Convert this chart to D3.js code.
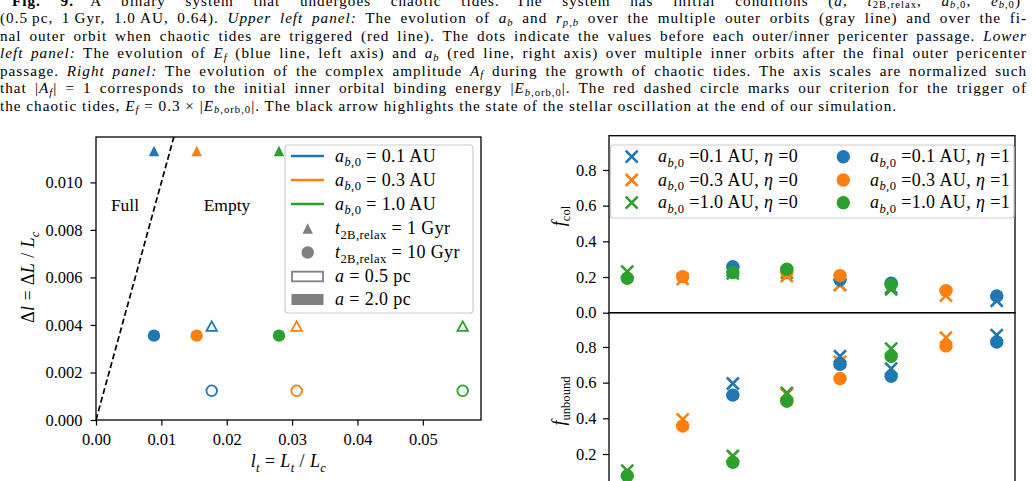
<!DOCTYPE html>
<html><head><meta charset="utf-8">
<script src="https://cdn.jsdelivr.net/npm/d3@7"></script>
<style>
html,body{margin:0;padding:0;background:#fff;}
svg{display:block;}
text{font-family:"Liberation Serif","Times New Roman",serif;fill:#000;}
</style></head><body>
<svg id="c" width="1036" height="481"></svg>
<script>
// ---------------- DATA ----------------
const colors = ["#1f77b4", "#ff7f0e", "#2ca02c"];
const abValues = ["0.1", "0.3", "1.0"];

// Left panel (l_t, Δl)
const ltFilled = [0.00887, 0.0154, 0.0280];   // a = 2.0 pc
const ltOpen   = [0.0177, 0.0307, 0.0561];    // a = 0.5 pc
const dlFilledTri  = [0.01132, 0.01132, 0.01132]; // 1 Gyr, 2.0 pc
const dlFilledCirc = [0.00355, 0.00355, 0.00355]; // 10 Gyr, 2.0 pc
const dlOpenTri    = [0.00395, 0.00395, 0.00395]; // 1 Gyr, 0.5 pc
const dlOpenCirc   = [0.00123, 0.00123, 0.00123]; // 10 Gyr, 0.5 pc
const dashLineX = [0, 0.013];
const dashLineY = [0, 0.013];
const leftXTicks = [0, 0.01, 0.02, 0.03, 0.04, 0.05];
const leftYTicks = [0, 0.002, 0.004, 0.006, 0.008, 0.010];

// Right panel
const rightX = [0.045, 0.1815, 0.305, 0.438, 0.569, 0.695, 0.830, 0.955];
const idxSeries = [[2, 4, 5, 7], [1, 3, 4, 6], [0, 2, 3, 5]];
const fcolEta0 = [[0.235, 0.156, 0.140, 0.067], [0.188, 0.205, 0.156, 0.096], [0.230, 0.220, 0.225, 0.131]];
const fcolEta1 = [[0.258, 0.184, 0.165, 0.094], [0.202, 0.225, 0.208, 0.124], [0.193, 0.225, 0.244, 0.156]];
const funbEta0 = [[0.595, 0.748, 0.679, 0.866], [0.394, 0.535, 0.716, 0.852], [0.107, 0.189, 0.543, 0.791]];
const funbEta1 = [[0.530, 0.703, 0.636, 0.828], [0.357, 0.495, 0.623, 0.806], [0.078, 0.154, 0.498, 0.748]];
const rightYTicks = [0, 0.2, 0.4, 0.6, 0.8];

// Caption lines
const captionLines = [
  "#Fig. 9.#\u2003A binary system that undergoes chaotic tides.\u2003The system has initial conditions (*a*, *t*_{2B,relax}, *a*_{*b*,0}, *e*_{*b*,0})",
  "(0.5\u2009pc, 1\u2009Gyr, 1.0\u2009AU, 0.64). *Upper left panel:* The evolution of *a*_{*b*} and *r*_{*p,b*} over the multiple outer orbits (gray line) and over the fi-",
  "nal outer orbit when chaotic tides are triggered (red line). The dots indicate the values before each outer/inner pericenter passage. *Lower*",
  "*left panel:* The evolution of *E*_{*f*} (blue line, left axis) and *a*_{*b*} (red line, right axis) over multiple inner orbits after the final outer pericenter",
  "passage. *Right panel:* The evolution of the complex amplitude *A*_{*f*} during the growth of chaotic tides. The axis scales are normalized such",
  "that |*A*_{*f*}| = 1 corresponds to the initial inner orbital binding energy |*E*_{*b*,orb,0}|. The red dashed circle marks our criterion for the trigger of",
  "the chaotic tides, *E*_{*f*} = 0.3 × |*E*_{*b*,orb,0}|. The black arrow highlights the state of the stellar oscillation at the end of our simulation."
];

// ---------------- HELPERS ----------------
const svg = d3.select("#c");
function parseRich(s) {
  const runs = []; let it = false, sub = false, bold = false, buf = "";
  const push = () => { if (buf) { runs.push({t: buf, it, sub, bold}); buf = ""; } };
  for (let i = 0; i < s.length; i++) {
    const c = s[i];
    if (c === "*") { push(); it = !it; }
    else if (c === "#") { push(); bold = !bold; }
    else if (c === "_" && s[i + 1] === "{") { push(); sub = true; i++; }
    else if (c === "}" && sub) { push(); sub = false; }
    else buf += c;
  }
  push(); return runs;
}
function rich(text, s, fs, shiftFactor) {
  text.selectAll("tspan").remove();
  const runs = parseRich(s); let cur = false;
  const shift = fs * (shiftFactor === undefined ? 0.25 : shiftFactor);
  runs.forEach(r => {
    const ts = text.append("tspan").text(r.t);
    if (r.it) ts.attr("font-style", "italic");
    if (r.bold) ts.attr("font-weight", "bold");
    if (r.sub && !cur) ts.attr("dy", shift);
    if (!r.sub && cur) ts.attr("dy", -shift);
    if (r.sub) ts.attr("font-size", fs * 0.7);
    cur = r.sub;
  });
  return text;
}
function plainLen(s) { return parseRich(s).reduce((a, r) => a + r.t.length, 0); }
function triPath(cx, cy, w, h) {
  return `M${cx},${cy - h / 2}L${cx + w / 2},${cy + h / 2}L${cx - w / 2},${cy + h / 2}Z`;
}

// ---------------- CAPTION ----------------
const capFs = 15.2;
const capSub = 0.17;
const capBase = [5.5, 23, 40.5, 58, 75.5, 93, 110.5];
const capX0 = [12, 0, 0, 0, 0, 0, 0];
const capX1 = [1021, 1027, 1027, 1027, 1027, 1027, 897];
let capLS = 0;
{
  const probe = svg.append("text").attr("font-size", capFs);
  rich(probe, captionLines[6], capFs, capSub);
  const w = probe.node().getComputedTextLength();
  probe.remove();
  capLS = (capX1[6] - capX0[6] - w) / plainLen(captionLines[6]);
}
captionLines.forEach((ln, i) => {
  const t = svg.append("text").attr("x", capX0[i]).attr("y", capBase[i]).attr("font-size", capFs).attr("letter-spacing", capLS);
  rich(t, ln, capFs, capSub);
  if (i < 6) {
    const len = t.node().getComputedTextLength();
    const nSp = (ln.match(/ /g) || []).length;
    const target = capX1[i] - capX0[i];
    if (nSp > 0) t.attr("word-spacing", (target - len) / nSp);
  }
});

// ---------------- LEFT PANEL ----------------
const L = {x0: 96, x1: 481, y0: 137, y1: 420};
const xL = d3.scaleLinear().domain([0, 0.0589]).range([L.x0, L.x1]);
const yL = d3.scaleLinear().domain([0, 0.01191]).range([L.y1, L.y0]);
const tickFs = 16.5;
const labFs = 18;
const labLS = 0.4;

svg.append("clipPath").attr("id", "clipL").append("rect")
  .attr("x", L.x0).attr("y", L.y0).attr("width", L.x1 - L.x0).attr("height", L.y1 - L.y0);

const gL = svg.append("g");
gL.append("line").attr("clip-path", "url(#clipL)")
  .attr("x1", xL(dashLineX[0])).attr("y1", yL(dashLineY[0]))
  .attr("x2", xL(dashLineX[1])).attr("y2", yL(dashLineY[1]))
  .attr("stroke", "#000").attr("stroke-width", 1.7).attr("stroke-dasharray", "6,3");

gL.append("text").attr("x", 125).attr("y", 211).attr("text-anchor", "middle").attr("font-size", 17.5).text("Full");
gL.append("text").attr("x", 227).attr("y", 211).attr("text-anchor", "middle").attr("font-size", 17.5).text("Empty");

const gm = gL.append("g").attr("clip-path", "url(#clipL)");
colors.forEach((c, i) => {
  gm.append("path").attr("d", triPath(xL(ltFilled[i]), yL(dlFilledTri[i]), 10.5, 10.5)).attr("fill", c);
  gm.append("circle").attr("cx", xL(ltFilled[i])).attr("cy", yL(dlFilledCirc[i])).attr("r", 6.2).attr("fill", c);
  gm.append("path").attr("d", triPath(xL(ltOpen[i]), yL(dlOpenTri[i]), 10.5, 9.5)).attr("fill", "none").attr("stroke", c).attr("stroke-width", 1.8);
  gm.append("circle").attr("cx", xL(ltOpen[i])).attr("cy", yL(dlOpenCirc[i])).attr("r", 5.3).attr("fill", "none").attr("stroke", c).attr("stroke-width", 1.8);
});

const axLX = d3.axisBottom(xL).tickValues(leftXTicks).tickFormat(d3.format(".2f")).tickSize(5.5).tickPadding(8);
const axLY = d3.axisLeft(yL).tickValues(leftYTicks).tickFormat(d3.format(".3f")).tickSize(5.5).tickPadding(8);
function styleAxis(g) {
  g.select(".domain").remove();
  g.selectAll(".tick line").attr("stroke", "#000").attr("stroke-width", 1.2);
  g.selectAll(".tick text").attr("font-size", tickFs).attr("font-family", "Liberation Serif").attr("fill", "#000");
}
svg.append("g").attr("transform", `translate(0,${L.y1})`).call(axLX).call(styleAxis);
svg.append("g").attr("transform", `translate(${L.x0},0)`).call(axLY).call(styleAxis);
svg.append("rect").attr("x", L.x0).attr("y", L.y0).attr("width", L.x1 - L.x0).attr("height", L.y1 - L.y0)
  .attr("fill", "none").attr("stroke", "#000").attr("stroke-width", 1.3);

rich(svg.append("text").attr("x", 288.5).attr("y", 467).attr("text-anchor", "middle").attr("font-size", labFs).attr("letter-spacing", labLS),
  "*l*_{*t*} = *L*_{*t*} / *L*_{*c*}", labFs);
rich(svg.append("text").attr("transform", "translate(34,277) rotate(-90)").attr("text-anchor", "middle").attr("font-size", labFs).attr("letter-spacing", labLS),
  "Δ*l* = Δ*L* / *L*_{*c*}", labFs);

// legend
const lg = svg.append("g");
lg.append("rect").attr("x", 285).attr("y", 145).attr("width", 188).attr("height", 168).attr("rx", 3)
  .attr("fill", "#fff").attr("fill-opacity", 0.8).attr("stroke", "#cccccc").attr("stroke-width", 1.2);
const legRows = [156, 180, 204, 228.5, 252.5, 276.5, 299.5];
const legLabels = [
  "*a*_{*b*,0} = " + abValues[0] + " AU",
  "*a*_{*b*,0} = " + abValues[1] + " AU",
  "*a*_{*b*,0} = " + abValues[2] + " AU",
  "*t*_{2B,relax} = 1 Gyr",
  "*t*_{2B,relax} = 10 Gyr",
  "*a* = 0.5 pc",
  "*a* = 2.0 pc"
];
colors.forEach((c, i) => {
  lg.append("line").attr("x1", 291).attr("x2", 324).attr("y1", legRows[i]).attr("y2", legRows[i]).attr("stroke", c).attr("stroke-width", 2.6);
});
lg.append("path").attr("d", triPath(307.7, legRows[3], 10.5, 10.5)).attr("fill", "#808080");
lg.append("circle").attr("cx", 307.7).attr("cy", legRows[4]).attr("r", 6.2).attr("fill", "#808080");
lg.append("rect").attr("x", 292).attr("y", legRows[5] - 4.8).attr("width", 31).attr("height", 9.6).attr("fill", "none").attr("stroke", "#808080").attr("stroke-width", 1.8);
lg.append("rect").attr("x", 291.5).attr("y", legRows[6] - 5.5).attr("width", 32).attr("height", 11).attr("fill", "#808080");
legLabels.forEach((s, i) => {
  rich(lg.append("text").attr("x", 335).attr("y", legRows[i] + 5.5).attr("font-size", labFs).attr("letter-spacing", labLS), s, labFs);
});

// ---------------- RIGHT PANEL ----------------
const R = {x0: 609, x1: 1015, top: 135.7, mid: 312.7, bot: 489.7};
const xR = d3.scaleLinear().domain([0, 1]).range([R.x0, R.x1]);
const yU = d3.scaleLinear().domain([0, 0.992]).range([R.mid, R.top]);
const yB = d3.scaleLinear().domain([0, 0.992]).range([R.bot, R.mid]);

function crossPath(cx, cy, h) {
  return `M${cx - h},${cy - h}L${cx + h},${cy + h}M${cx - h},${cy + h}L${cx + h},${cy - h}`;
}
function drawSet(g, yScale, vals0, vals1) {
  colors.forEach((c, s) => {
    idxSeries[s].forEach((ix, k) => {
      g.append("path").attr("d", crossPath(xR(rightX[ix]), yScale(vals0[s][k]), 6))
        .attr("stroke", c).attr("stroke-width", 2.6).attr("fill", "none");
    });
  });
  colors.forEach((c, s) => {
    idxSeries[s].forEach((ix, k) => {
      g.append("circle").attr("cx", xR(rightX[ix])).attr("cy", yScale(vals1[s][k])).attr("r", 6.7).attr("fill", c);
    });
  });
}
drawSet(svg.append("g"), yU, fcolEta0, fcolEta1);
drawSet(svg.append("g"), yB, funbEta0, funbEta1);

const axU = d3.axisLeft(yU).tickValues(rightYTicks).tickFormat(d3.format(".1f")).tickSize(6).tickPadding(6.5);
const axB = d3.axisLeft(yB).tickValues(rightYTicks).tickFormat(d3.format(".1f")).tickSize(6).tickPadding(6.5);
svg.append("g").attr("transform", `translate(${R.x0},0)`).call(axU).call(styleAxis);
svg.append("g").attr("transform", `translate(${R.x0},0)`).call(axB).call(styleAxis);
svg.append("rect").attr("x", R.x0).attr("y", R.top).attr("width", R.x1 - R.x0).attr("height", R.mid - R.top)
  .attr("fill", "none").attr("stroke", "#000").attr("stroke-width", 1.3);
svg.append("rect").attr("x", R.x0).attr("y", R.mid).attr("width", R.x1 - R.x0).attr("height", R.bot - R.mid)
  .attr("fill", "none").attr("stroke", "#000").attr("stroke-width", 1.3);

rich(svg.append("text").attr("transform", "translate(565,216) rotate(-90)").attr("text-anchor", "middle").attr("font-size", labFs),
  "*f*_{col}", labFs);
rich(svg.append("text").attr("transform", "translate(565,401) rotate(-90)").attr("text-anchor", "middle").attr("font-size", labFs),
  "*f*_{unbound}", labFs);

// right legend
const rg = svg.append("g");
rg.append("rect").attr("x", 610.5).attr("y", 145).attr("width", 403.5).attr("height", 73).attr("rx", 3)
  .attr("fill", "#fff").attr("fill-opacity", 0.8).attr("stroke", "#cccccc").attr("stroke-width", 1.2);
const rRows = [156.7, 180, 202.7];
colors.forEach((c, i) => {
  const cy = rRows[i];
  rg.append("path").attr("d", crossPath(631.7, cy, 6)).attr("stroke", c).attr("stroke-width", 2.6);
  rich(rg.append("text").attr("x", 658).attr("y", cy + 5.5).attr("font-size", labFs).attr("letter-spacing", labLS), `*a*_{*b*,0} =${abValues[i]} AU, *η* =0`, labFs);
  rg.append("circle").attr("cx", 843.3).attr("cy", cy).attr("r", 6.7).attr("fill", c);
  rich(rg.append("text").attr("x", 870).attr("y", cy + 5.5).attr("font-size", labFs).attr("letter-spacing", labLS), `*a*_{*b*,0} =${abValues[i]} AU, *η* =1`, labFs);
});
</script>
</body></html>
